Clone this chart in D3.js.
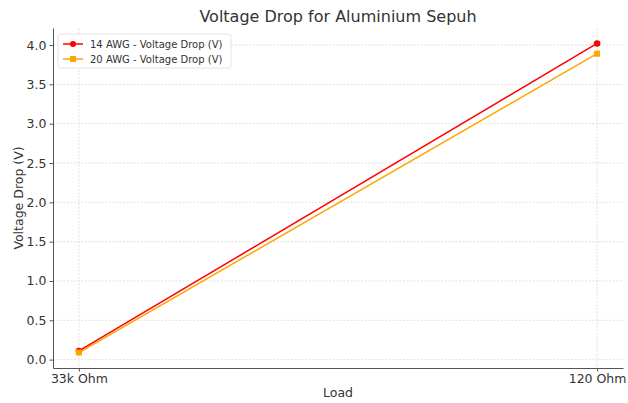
<!DOCTYPE html>
<html>
<head>
<meta charset="utf-8">
<script src="https://cdn.jsdelivr.net/npm/d3@7"></script>
<style>
  body { margin: 0; background: #fff; }
  text { font-family: "DejaVu Sans", sans-serif; fill: #333; }
</style>
</head>
<body>
<div id="chart"></div>
<script>
// chart data
var loads = ["33k Ohm", "120 Ohm"];
var awg14 = [0.11, 4.02];
var awg20 = [0.09, 3.89];
var seriesNames = ["14 AWG - Voltage Drop (V)", "20 AWG - Voltage Drop (V)"];
var yTicks = [0.0, 0.5, 1.0, 1.5, 2.0, 2.5, 3.0, 3.5, 4.0];

var width = 628, height = 403;
var margin = { top: 28, right: 5, bottom: 35, left: 53 };
var innerW = width - margin.left - margin.right,
    innerH = height - margin.top - margin.bottom;

var svg = d3.select("#chart").append("svg")
    .attr("width", width)
    .attr("height", height);

var g = svg.append("g")
    .attr("transform", "translate(" + margin.left + "," + margin.top + ")");

// matplotlib-like 5% padding
var x = d3.scaleLinear().domain([-0.05, 1.05]).range([0, innerW]);
var allVals = awg14.concat(awg20);
var lo = d3.min(allVals), hi = d3.max(allVals), pad = (hi - lo) * 0.05;
var y = d3.scaleLinear().domain([lo - pad, hi + pad]).range([innerH, 0]);

// grid
g.append("g").selectAll("line").data(yTicks).join("line")
    .attr("x1", 0).attr("x2", innerW)
    .attr("y1", d => y(d)).attr("y2", d => y(d))
    .attr("stroke", "#d9d9d9").attr("stroke-width", 0.8)
    .attr("stroke-dasharray", "2,1.5");
g.append("g").selectAll("line").data(loads).join("line")
    .attr("x1", (d, i) => x(i)).attr("x2", (d, i) => x(i))
    .attr("y1", 0).attr("y2", innerH)
    .attr("stroke", "#d9d9d9").attr("stroke-width", 0.8)
    .attr("stroke-dasharray", "2,1.5");

// axes
var xAxis = d3.axisBottom(x).tickValues([0, 1]).tickFormat(i => loads[i])
    .tickSize(3.5).tickSizeOuter(0).tickPadding(3);
var yAxis = d3.axisLeft(y).tickValues(yTicks).tickFormat(d3.format(".1f"))
    .tickSize(3.5).tickSizeOuter(0).tickPadding(3);

var gx = g.append("g").attr("transform", "translate(0," + innerH + ")").call(xAxis);
var gy = g.append("g").call(yAxis);
[gx, gy].forEach(function (a) {
    a.select(".domain").attr("stroke", "#555").attr("stroke-width", 1);
    a.selectAll(".tick line").attr("stroke", "#555");
    a.selectAll(".tick text").attr("font-size", 12.5).attr("fill", "#333")
        .style("font-family", "DejaVu Sans, sans-serif");
});

// lines
var line = d3.line().x((d, i) => x(i)).y(d => y(d));
g.append("path").datum(awg20).attr("d", line)
    .attr("fill", "none").attr("stroke", "orange").attr("stroke-width", 1.5);
g.append("path").datum(awg14).attr("d", line)
    .attr("fill", "none").attr("stroke", "red").attr("stroke-width", 1.5);

// markers
g.append("g").selectAll("circle").data(awg14).join("circle")
    .attr("cx", (d, i) => x(i)).attr("cy", d => y(d)).attr("r", 3.3)
    .attr("fill", "red");
g.append("g").selectAll("rect").data(awg20).join("rect")
    .attr("x", (d, i) => x(i) - 3).attr("y", d => y(d) - 3)
    .attr("width", 6).attr("height", 6)
    .attr("fill", "orange");

// title & axis labels
svg.append("text").attr("x", margin.left + innerW / 2).attr("y", 22)
    .attr("text-anchor", "middle").attr("font-size", 16).text("Voltage Drop for Aluminium Sepuh");
svg.append("text").attr("x", margin.left + innerW / 2).attr("y", 397)
    .attr("text-anchor", "middle").attr("font-size", 12.5).text("Load");
svg.append("text")
    .attr("transform", "translate(23," + (margin.top + innerH / 2) + ") rotate(-90)")
    .attr("text-anchor", "middle").attr("font-size", 12.5).text("Voltage Drop (V)");

// legend
var legend = g.append("g").attr("transform", "translate(5,6)");
legend.append("rect").attr("width", 173).attr("height", 34).attr("rx", 2.5)
    .attr("fill", "white").attr("fill-opacity", 0.8)
    .attr("stroke", "#ddd").attr("stroke-width", 0.8);
var legColors = ["red", "orange"];
seriesNames.forEach(function (name, i) {
    var row = legend.append("g").attr("transform", "translate(5," + (10 + i * 15) + ")");
    row.append("line").attr("x1", 0).attr("x2", 20).attr("y1", 0).attr("y2", 0)
        .attr("stroke", legColors[i]).attr("stroke-width", 1.5);
    if (i === 0) {
        row.append("circle").attr("cx", 10).attr("cy", 0).attr("r", 3).attr("fill", "red");
    } else {
        row.append("rect").attr("x", 7).attr("y", -3).attr("width", 6).attr("height", 6).attr("fill", "orange");
    }
    row.append("text").attr("x", 27).attr("y", 3.5).attr("font-size", 10).text(name);
});
</script>
</body>
</html>
